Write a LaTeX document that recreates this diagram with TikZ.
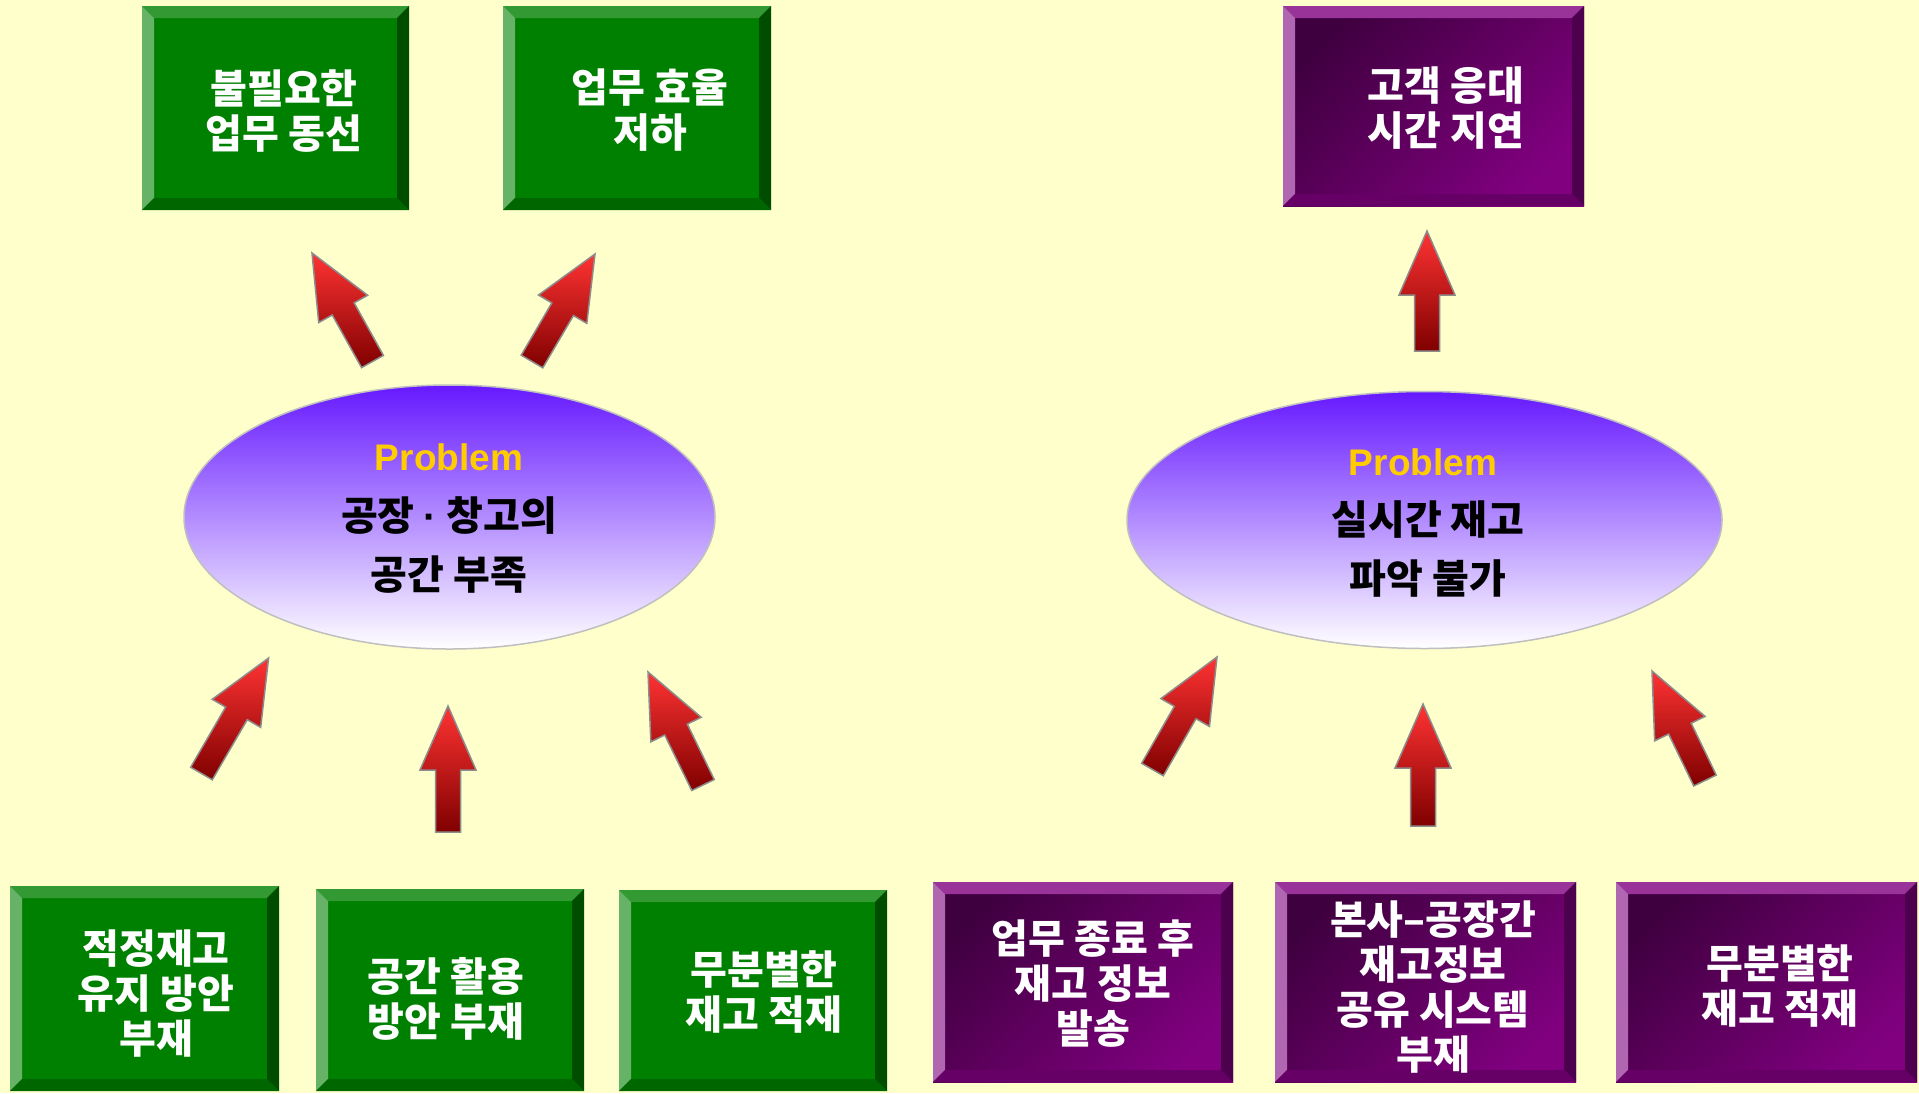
\documentclass[tikz,border=0pt]{standalone}
\usepackage{fontspec}
\setmainfont{Liberation Sans}
\IfFontExistsTF{Noto Sans CJK KR Black}
  {\newfontfamily\kr{Noto Sans CJK KR Black}}
  {\newfontfamily\kr{Noto Sans CJK KR}[FakeBold=2]}
\usetikzlibrary{calc,shapes.geometric}
\definecolor{bgc}{HTML}{FFFFCC}
\definecolor{gface}{HTML}{008000}
\definecolor{gtop}{HTML}{339933}
\definecolor{gleft}{HTML}{66B266}
\definecolor{gright}{HTML}{004D00}
\definecolor{gbot}{HTML}{006600}
\definecolor{pfaceA}{HTML}{3F003F}
\definecolor{pfaceB}{HTML}{800080}
\definecolor{ptop}{HTML}{993399}
\definecolor{pleft}{HTML}{B066B0}
\definecolor{pright}{HTML}{4D004D}
\definecolor{pbot}{HTML}{660066}
\definecolor{elltop}{HTML}{6619FF}
\definecolor{probc}{HTML}{FFCC00}
\definecolor{arrdark}{HTML}{800000}
\definecolor{arrlight}{HTML}{FF3333}
\definecolor{arredge}{HTML}{8C8C8C}
\tikzset{
  gbox/.style={rectangle, inner sep=0pt, outer sep=0pt, fill=gface},
  pbox/.style={rectangle, inner sep=0pt, outer sep=0pt, top color=pfaceA, bottom color=pfaceB, shading angle=45},
  boxtext/.style={text=white, align=center, font=\kr\fontsize{40}{45}\selectfont},
  probell/.style={ellipse, inner sep=0pt, draw=black!25, line width=1.5pt, top color=elltop, bottom color=white},
  probtitle/.style={text=probc, font=\bfseries\fontsize{37}{40}\selectfont},
  elltext/.style={text=black, align=center, font=\kr\fontsize{40}{59}\selectfont},
  arrowshape/.style={draw=arredge, line width=1.5pt, top color=arrlight, bottom color=arrdark, line join=miter}
}
\newcommand\bevelbox[5]{%
  \fill[#2] (#1.north west) -- (#1.north east) -- ($(#1.north east)+(-12,12)$) -- ($(#1.north west)+(12,12)$) -- cycle;
  \fill[#3] (#1.north west) -- (#1.south west) -- ($(#1.south west)+(12,-12)$) -- ($(#1.north west)+(12,12)$) -- cycle;
  \fill[#4] (#1.north east) -- (#1.south east) -- ($(#1.south east)+(-12,-12)$) -- ($(#1.north east)+(-12,12)$) -- cycle;
  \fill[#5] (#1.south west) -- (#1.south east) -- ($(#1.south east)+(-12,-12)$) -- ($(#1.south west)+(12,-12)$) -- cycle;
}
\newcommand\blockarrow[2]{%
  \path let \p1=($(#2)-(#1)$) in \pgfextra{%
    \pgfmathsetmacro\myang{atan2(\y1,\x1)}%
    \pgfmathsetmacro\mylen{veclen(\x1,\y1)}%
    \global\let\myang\myang\global\let\mylen\mylen};
  \begin{scope}[shift={(#1)}, rotate=\myang]
    \shade[arrowshape] (0,-12.5) -- ({\mylen-64},-12.5) -- ({\mylen-64},-28) -- (\mylen,0)
      -- ({\mylen-64},28) -- ({\mylen-64},12.5) -- (0,12.5) -- cycle;
  \end{scope}
}
\begin{document}
\begin{tikzpicture}[x=1pt, y=-1pt]
\fill[bgc] (0,0) rectangle (1919,1093);
\useasboundingbox (0,0) rectangle (1919,1093);

% top boxes
\node[gbox, minimum width=267, minimum height=204] (g1) at (275.5,108) {};
\bevelbox{g1}{gtop}{gleft}{gright}{gbot}
\node[boxtext] (g1t) at (284,111) {불필요한\\업무 동선};

\node[gbox, minimum width=268, minimum height=204] (g2) at (637,108) {};
\bevelbox{g2}{gtop}{gleft}{gright}{gbot}
\node[boxtext] (g2t) at (650,110) {업무 효율\\저하};

\node[pbox, minimum width=301, minimum height=200] (p0) at (1433.5,106) {};
\bevelbox{p0}{ptop}{pleft}{pright}{pbot}
\node[boxtext] (p0t) at (1446,108) {고객 응대\\시간 지연};

% ellipses
\node[probell, minimum width=531, minimum height=264] (e1) at (449.5,517) {};
\node[probtitle] (e1p) at (449,457) {Problem};
\node[elltext] (e1t) at (449,545) {공장 {\rmfamily\bfseries ·} 창고의\\공간 부족};

\node[probell, minimum width=595, minimum height=257] (e2) at (1424.5,520) {};
\node[probtitle] (e2p) at (1423,462) {Problem};
\node[elltext] (e2t) at (1428,549) {실시간 재고\\파악 불가};

% bottom boxes
\node[gbox, minimum width=269, minimum height=205] (g3) at (144.5,988.5) {};
\bevelbox{g3}{gtop}{gleft}{gright}{gbot}
\node[boxtext] (g3t) at (156,994) {적정재고\\유지 방안\\부재};

\node[gbox, minimum width=268, minimum height=202] (g4) at (450,990) {};
\bevelbox{g4}{gtop}{gleft}{gright}{gbot}
\node[boxtext] (g4t) at (446,999) {공간 활용\\방안 부재};

\node[gbox, minimum width=268, minimum height=201] (g5) at (753,990.5) {};
\bevelbox{g5}{gtop}{gleft}{gright}{gbot}
\node[boxtext] (g5t) at (764,992) {무분별한\\재고 적재};

\node[pbox, minimum width=300, minimum height=200] (p1) at (1083,982) {};
\bevelbox{p1}{ptop}{pleft}{pright}{pbot}
\node[boxtext] (p1t) at (1093,984) {업무 종료 후\\재고 정보\\발송};

\node[pbox, minimum width=301, minimum height=200] (p2) at (1425.5,982) {};
\bevelbox{p2}{ptop}{pleft}{pright}{pbot}
\node[boxtext] (p2t) at (1433,987) {본사–공장간\\재고정보\\공유 시스템\\부재};

\node[pbox, minimum width=301, minimum height=200] (p3) at (1766.5,982) {};
\bevelbox{p3}{ptop}{pleft}{pright}{pbot}
\node[boxtext] (p3t) at (1780,986) {무분별한\\재고 적재};

% arrow end points
\coordinate (a1b) at (372.5,361.5); \coordinate (a1t) at (312,253);
\coordinate (a2b) at (532,361.5);   \coordinate (a2t) at (595,254);
\coordinate (a3b) at (1427,351);    \coordinate (a3t) at (1427,231);
\coordinate (a4b) at (201.5,773.5); \coordinate (a4t) at (268.6,658);
\coordinate (a5b) at (448,832);     \coordinate (a5t) at (448,706);
\coordinate (a6b) at (703,785);     \coordinate (a6t) at (648,672);
\coordinate (a7b) at (1152.5,769.5);\coordinate (a7t) at (1217,657);
\coordinate (a8b) at (1423,826);    \coordinate (a8t) at (1423,704);
\coordinate (a9b) at (1705,780.5);  \coordinate (a9t) at (1652,671);

\blockarrow{a1b}{a1t}
\blockarrow{a2b}{a2t}
\blockarrow{a3b}{a3t}
\blockarrow{a4b}{a4t}
\blockarrow{a5b}{a5t}
\blockarrow{a6b}{a6t}
\blockarrow{a7b}{a7t}
\blockarrow{a8b}{a8t}
\blockarrow{a9b}{a9t}
\end{tikzpicture}
\end{document}
